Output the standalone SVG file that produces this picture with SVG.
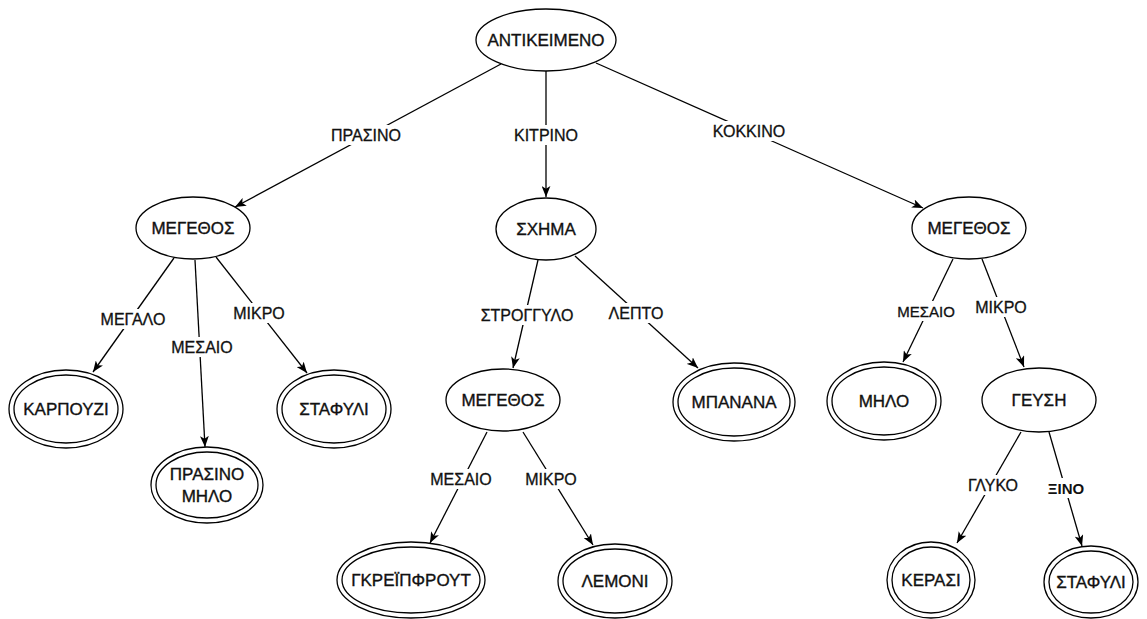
<svg xmlns="http://www.w3.org/2000/svg" width="1147" height="619" viewBox="0 0 1147 619">
<defs>
<marker id="arr" viewBox="0 0 10 8" markerWidth="11" markerHeight="9" refX="10" refY="4" orient="auto" markerUnits="userSpaceOnUse">
<path d="M0,0 L10,4 L0,8 L2.5,4 Z" fill="#000"/>
</marker>
</defs>
<style>
.n{fill:#fff;stroke:#000;stroke-width:1.3}
.i{fill:none;stroke:#000;stroke-width:1.3}
.t{font-family:"Liberation Sans",Arial,sans-serif;font-size:17px;text-anchor:middle;fill:#111;stroke:#111;stroke-width:0.35}
.e{stroke:#000;stroke-width:1.3;fill:none;marker-end:url(#arr)}
.lb{fill:#fff}
.l{font-family:"Liberation Sans",Arial,sans-serif;font-size:16px;text-anchor:middle;fill:#111;stroke:#111;stroke-width:0.3}
</style>
<rect width="1147" height="619" fill="#fff"/>
<g id="connectors">
<line class="e" x1="501" y1="64" x2="235" y2="207"/>
<line class="e" x1="546" y1="71" x2="546" y2="197"/>
<line class="e" x1="596" y1="63" x2="923" y2="208"/>
<line class="e" x1="174" y1="258" x2="93" y2="372"/>
<line class="e" x1="195" y1="260" x2="205" y2="447"/>
<line class="e" x1="216" y1="257" x2="307" y2="373"/>
<line class="e" x1="538" y1="260" x2="513" y2="368"/>
<line class="e" x1="575" y1="256" x2="698" y2="368"/>
<line class="e" x1="487" y1="432" x2="430" y2="543"/>
<line class="e" x1="523" y1="432" x2="593" y2="545"/>
<line class="e" x1="953" y1="259" x2="903" y2="362"/>
<line class="e" x1="982" y1="259" x2="1024" y2="367"/>
<line class="e" x1="1021" y1="432" x2="957" y2="543"/>
<line class="e" x1="1049" y1="432" x2="1082" y2="546"/>
<rect class="lb" x="331" y="125" width="70" height="20"/>
<text class="l" x="366" y="141">ΠΡΑΣΙΝΟ</text>
<rect class="lb" x="512" y="125" width="68" height="20"/>
<text class="l" x="546" y="141">ΚΙΤΡΙΝΟ</text>
<rect class="lb" x="708" y="121" width="82" height="20"/>
<text class="l" x="749" y="137">ΚΟΚΚΙΝΟ</text>
<rect class="lb" x="96" y="309" width="74" height="20"/>
<text class="l" x="133" y="325">ΜΕΓΑΛΟ</text>
<rect class="lb" x="168" y="337" width="68" height="20"/>
<text class="l" x="202" y="353">ΜΕΣΑΙΟ</text>
<rect class="lb" x="230" y="303" width="58" height="20"/>
<text class="l" x="259" y="319">ΜΙΚΡΟ</text>
<rect class="lb" x="476" y="305" width="102" height="20"/>
<text class="l" x="527" y="321">ΣΤΡΟΓΓΥΛΟ</text>
<rect class="lb" x="608" y="303" width="56" height="20"/>
<text class="l" x="636" y="319">ΛΕΠΤΟ</text>
<rect class="lb" x="428" y="469" width="66" height="20"/>
<text class="l" x="461" y="485">ΜΕΣΑΙΟ</text>
<rect class="lb" x="522" y="469" width="58" height="20"/>
<text class="l" x="551" y="485">ΜΙΚΡΟ</text>
<rect class="lb" x="894" y="301" width="64" height="20"/>
<text class="l" x="926" y="317" style="font-size:15px">ΜΕΣΑΙΟ</text>
<rect class="lb" x="971" y="297" width="60" height="20"/>
<text class="l" x="1001" y="313">ΜΙΚΡΟ</text>
<rect class="lb" x="965" y="475" width="56" height="20"/>
<text class="l" x="993" y="491">ΓΛΥΚΟ</text>
<rect class="lb" x="1046" y="478" width="40" height="20"/>
<text class="l" x="1066" y="494" style="font-size:15px;font-weight:bold;stroke-width:0">ΞΙΝΟ</text>
</g>
<g id="root"><ellipse class="n" cx="546" cy="40" rx="70" ry="31"/><text class="t" x="546" y="46">ΑΝΤΙΚΕΙΜΕΝΟ</text></g>
<g id="size-green"><ellipse class="n" cx="193" cy="228" rx="57" ry="31"/><text class="t" x="193" y="234">ΜΕΓΕΘΟΣ</text></g>
<g id="shape"><ellipse class="n" cx="546" cy="229" rx="50" ry="31"/><text class="t" x="546" y="235">ΣΧΗΜΑ</text></g>
<g id="size-red"><ellipse class="n" cx="969" cy="228" rx="57" ry="31"/><text class="t" x="969" y="234">ΜΕΓΕΘΟΣ</text></g>
<g id="watermelon"><ellipse class="n" cx="66" cy="409" rx="57" ry="39"/><ellipse class="i" cx="66" cy="409" rx="52" ry="34"/><text class="t" x="66" y="415">ΚΑΡΠΟΥΖΙ</text></g>
<g id="green-apple"><ellipse class="n" cx="207" cy="485" rx="56" ry="38"/><ellipse class="i" cx="207" cy="485" rx="51" ry="33"/><text class="t" x="207" y="480">ΠΡΑΣΙΝΟ</text><text class="t" x="207" y="502">ΜΗΛΟ</text></g>
<g id="grape-green"><ellipse class="n" cx="334" cy="409" rx="57" ry="39"/><ellipse class="i" cx="334" cy="409" rx="52" ry="34"/><text class="t" x="334" y="415">ΣΤΑΦΥΛΙ</text></g>
<g id="size-yellow"><ellipse class="n" cx="503" cy="400" rx="57" ry="31"/><text class="t" x="503" y="406">ΜΕΓΕΘΟΣ</text></g>
<g id="banana"><ellipse class="n" cx="734" cy="402" rx="61" ry="39"/><ellipse class="i" cx="734" cy="402" rx="56" ry="34"/><text class="t" x="734" y="408">ΜΠΑΝΑΝΑ</text></g>
<g id="grapefruit"><ellipse class="n" cx="411" cy="580" rx="74" ry="38"/><ellipse class="i" cx="411" cy="580" rx="69" ry="33"/><text class="t" x="411" y="586">ΓΚΡΕΪΠΦΡΟΥΤ</text></g>
<g id="lemon"><ellipse class="n" cx="615" cy="581" rx="57" ry="37"/><ellipse class="i" cx="615" cy="581" rx="52" ry="32"/><text class="t" x="615" y="587">ΛΕΜΟΝΙ</text></g>
<g id="apple"><ellipse class="n" cx="884" cy="401" rx="57" ry="39"/><ellipse class="i" cx="884" cy="401" rx="52" ry="34"/><text class="t" x="884" y="407">ΜΗΛΟ</text></g>
<g id="taste"><ellipse class="n" cx="1039" cy="400" rx="57" ry="32"/><text class="t" x="1039" y="406">ΓΕΥΣΗ</text></g>
<g id="cherry"><ellipse class="n" cx="931" cy="580" rx="44" ry="38"/><ellipse class="i" cx="931" cy="580" rx="39" ry="33"/><text class="t" x="931" y="586">ΚΕΡΑΣΙ</text></g>
<g id="grape-red"><ellipse class="n" cx="1091" cy="582" rx="47" ry="36"/><ellipse class="i" cx="1091" cy="582" rx="42" ry="31"/><text class="t" x="1091" y="588">ΣΤΑΦΥΛΙ</text></g>
</svg>
